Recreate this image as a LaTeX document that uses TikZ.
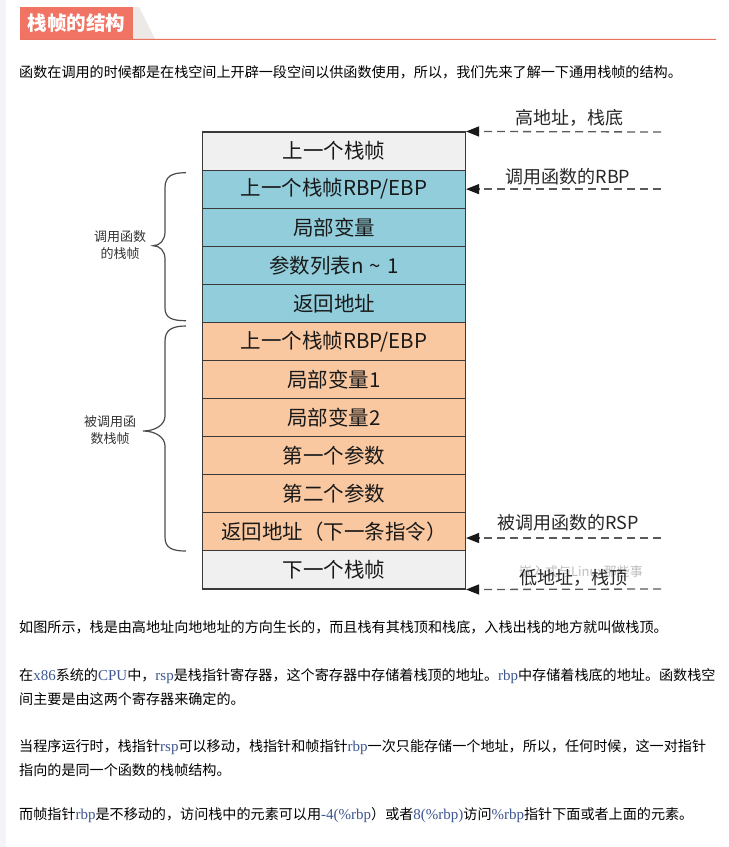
\documentclass[tikz,border=0pt]{standalone}
\usepackage{fontspec}
\setmainfont{Noto Sans CJK SC}
\newfontfamily\lser{Liberation Serif}
\usetikzlibrary{arrows.meta,calc}

\definecolor{titlered}{HTML}{F07363}
\definecolor{rulered}{HTML}{E9735F}
\definecolor{tabgray}{HTML}{ECE9E6}
\definecolor{sidegray}{HTML}{F2F4F7}
\definecolor{cellgray}{HTML}{F0F0F0}
\definecolor{cellblue}{HTML}{92CDDC}
\definecolor{cellorange}{HTML}{F9C8A0}
\definecolor{codeblue}{HTML}{3D5590}
\definecolor{ptrgray}{HTML}{5A5A5A}
\definecolor{rowline}{HTML}{3A3A3A}

% inline register / code words in the prose
\newcommand\code[1]{{\lser\fontsize{15}{15}\selectfont\color{codeblue}#1}}

\tikzset{
  bodytext/.style={anchor=west, inner sep=0pt, font=\fontsize{14.1}{14.1}\selectfont},
  cell/.style={draw=rowline, line width=1.1pt, minimum width=263pt, minimum height=38.08pt,
               inner sep=0pt, font=\fontsize{20.5}{20.5}\selectfont, text=black!90},
  ptr/.style={draw=ptrgray, line width=1.3pt, dash pattern=on 8pt off 5pt,
              -{Triangle[length=13pt,width=10pt,fill=black!90,color=black!90]}},
  ptrlabel/.style={inner sep=0pt, font=\fontsize{18}{18}\selectfont, text=black!85},
  brace/.style={draw=black!70, line width=1.2pt},
  bracelabel/.style={inner sep=0pt, align=center, font=\fontsize{13}{17}\selectfont, text=black!80},
  wmark/.style={inner sep=0pt, font=\fontsize{13}{13}\selectfont, text=black!25},
}

\begin{document}
\begin{tikzpicture}[x=1pt,y=-1pt]
\useasboundingbox (0,0) rectangle (729,847);
\fill[white] (0,0) rectangle (729,847);
\fill[sidegray] (0,0) rectangle (6,847);

% section heading with its tab and rule
\fill[tabgray] (133,7) -- (139,7) -- (155,39) -- (133,39) -- cycle;
\node[fill=titlered, minimum width=113pt, minimum height=32pt, inner sep=0pt, anchor=north west,
      text=white, font=\fontsize{19.5}{19.5}\selectfont\bfseries] (title) at (20,7) {栈帧的结构};
\coordinate (ruleend) at (716,39.3);
\draw[rulered, line width=1pt] (title.south west) -- (ruleend);

\node[bodytext] (intro) at (19,72) {函数在调用的时候都是在栈空间上开辟一段空间以供函数使用，所以，我们先来了解一下通用栈帧的结构。};

% the stack, top (high address) to bottom (low address)
\node[cell, fill=cellgray]   (r1)  at (334,151.04) {上一个栈帧};
\node[cell, fill=cellblue]   (r2)  at (334,189.12) {上一个栈帧RBP/EBP};
\node[cell, fill=cellblue]   (r3)  at (334,227.20) {局部变量};
\node[cell, fill=cellblue]   (r4)  at (334,265.28) {参数列表n\hspace{0.3em}\textasciitilde\hspace{0.3em}1};
\node[cell, fill=cellblue]   (r5)  at (334,303.36) {返回地址};
\node[cell, fill=cellorange] (r6)  at (334,341.44) {上一个栈帧RBP/EBP};
\node[cell, fill=cellorange] (r7)  at (334,379.52) {局部变量1};
\node[cell, fill=cellorange] (r8)  at (334,417.60) {局部变量2};
\node[cell, fill=cellorange] (r9)  at (334,455.68) {第一个参数};
\node[cell, fill=cellorange] (r10) at (334,493.76) {第二个参数};
\node[cell, fill=cellorange] (r11) at (334,531.84) {返回地址（下一条指令）};
\node[cell, fill=cellgray]   (r12) at (334,569.92) {下一个栈帧};

% pointers on the right
\coordinate (p1) at (661,132);
\coordinate (p2) at (661,189.12);
\coordinate (p3) at (661,538);
\coordinate (p4) at (661,589);
\draw[ptr] (p1) -- (r1.north east);
\draw[ptr] (p2) -- (r2.east);
\draw[ptr] (p3) -- (p3 -| r11.east);
\draw[ptr] (p4) -- (r12.south east);

\node[ptrlabel] (l1) at (569,118) {高地址，栈底};
\node[ptrlabel] (l2) at (568,177) {调用函数的RBP};
\node[ptrlabel] (l3) at (568,523) {被调用函数的RSP};
\node[wmark] (wm) at (581,572) {嵌入式与Linux那些事};
\node[ptrlabel] (l4) at (573,578) {低地址，栈顶};

% braces on the left
\draw[brace] (186,172.7) .. controls (172,172.7) and (165,176) .. (165,188) -- (165,232)
  .. controls (165,240) and (160,245.7) .. (153,245.7)
  .. controls (160,245.7) and (165,251) .. (165,259) -- (165,308)
  .. controls (165,318) and (172,320.7) .. (186,320.7);
\draw[brace] (186,326) .. controls (172,326) and (165,330) .. (165,341) -- (165,416)
  .. controls (165,425) and (155,431) .. (143,431)
  .. controls (155,431) and (165,437) .. (165,446) -- (165,537)
  .. controls (165,548) and (172,551) .. (186,551);
\node[bracelabel] (b1) at (120,245.5) {调用函数\\的栈帧};
\node[bracelabel] (b2) at (110,430) {被调用函\\数栈帧};

% prose below the figure
\node[bodytext] (t1) at (19,627) {如图所示，栈是由高地址向地地址的方向生长的，而且栈有其栈顶和栈底，入栈出栈的地方就叫做栈顶。};
\node[bodytext] (t2) at (19,676) {在\code{x86}系统的\code{CPU}中，\code{rsp}是栈指针寄存器，这个寄存器中存储着栈顶的地址。\code{rbp}中存储着栈底的地址。函数栈空};
\node[bodytext] (t3) at (19,699) {间主要是由这两个寄存器来确定的。};
\node[bodytext] (t4) at (19,747) {当程序运行时，栈指针\code{rsp}可以移动，栈指针和帧指针\code{rbp}一次只能存储一个地址，所以，任何时候，这一对指针};
\node[bodytext] (t5) at (19,770) {指向的是同一个函数的栈帧结构。};
\node[bodytext] (t6) at (19,815) {而帧指针\code{rbp}是不移动的，访问栈中的元素可以用\code{-4(\%rbp}）或者\code{8(\%rbp)}访问\code{\%rbp}指针下面或者上面的元素。};
\end{tikzpicture}
\end{document}
